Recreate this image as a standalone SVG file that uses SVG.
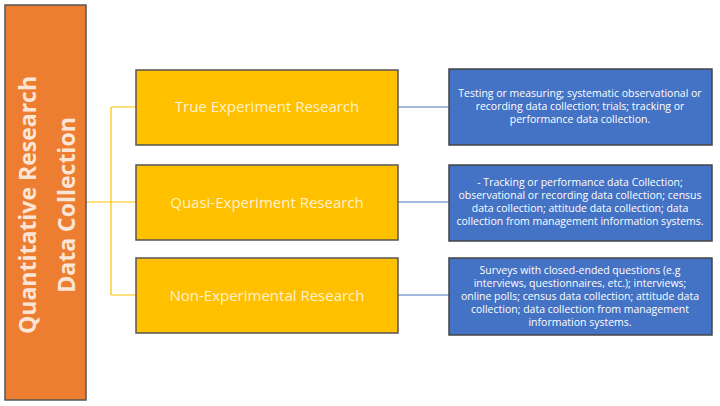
<svg xmlns="http://www.w3.org/2000/svg" width="720" height="406" viewBox="0 0 720 406">
<style>
.y{fill:#FFC000;stroke:#555;stroke-width:1.5}
.b{fill:#4472C4;stroke:#444;stroke-width:1.5}
.yt{font-family:"Open Sans","Liberation Sans",sans-serif;font-size:15px;fill:#FFF2CC;text-anchor:middle}
.bt{font-family:"Open Sans","Liberation Sans",sans-serif;font-size:10.5px;fill:#fff;text-anchor:middle}
.ot{font-family:"Open Sans","Liberation Sans",sans-serif;font-size:23px;font-weight:bold;fill:#FBE5D6;text-anchor:middle}
</style>
<rect width="720" height="406" fill="#fff"/>
<g id="connectors" fill="none">
<path d="M86 202H136M111 107V295M111 107H136M111 295H136" stroke="#FFC000" stroke-width="1.2"/>
<path d="M398 107H449M398 202H449M398 295H449" stroke="#4472C4" stroke-width="1.2"/>
</g>
<g id="root">
<rect x="5" y="5" width="81" height="395" fill="#ED7D31" stroke="#555" stroke-width="1.5"/>
<text class="ot" transform="translate(36,205) rotate(-90)">Quantitative Research</text>
<text class="ot" transform="translate(75,205) rotate(-90)">Data Collection</text>
</g>
<g id="true"><rect class="y" x="136" y="70" width="262" height="75"/><text class="yt" x="267" y="112">True Experiment Research</text></g>
<g id="quasi"><rect class="y" x="136" y="165" width="262" height="75"/><text class="yt" x="267" y="208">Quasi-Experiment Research</text></g>
<g id="non"><rect class="y" x="136" y="258" width="262" height="75"/><text class="yt" x="267" y="301">Non-Experimental Research</text></g>
<g id="d1"><rect class="b" x="449" y="69" width="263" height="76"/>
<text class="bt"><tspan x="580" y="97">Testing or measuring; systematic observational or</tspan><tspan x="580" y="110">recording data collection; trials; tracking or</tspan><tspan x="580" y="123">performance data collection.</tspan></text></g>
<g id="d2"><rect class="b" x="449" y="165" width="263" height="76"/>
<text class="bt"><tspan x="580" y="186">- Tracking or performance data Collection;</tspan><tspan x="580" y="199">observational or recording data collection; census</tspan><tspan x="580" y="212">data collection; attitude data collection; data</tspan><tspan x="580" y="225">collection from management information systems.</tspan></text></g>
<g id="d3"><rect class="b" x="449" y="258" width="263" height="77"/>
<text class="bt"><tspan x="580" y="274">Surveys with closed-ended questions (e.g</tspan><tspan x="580" y="287">interviews, questionnaires, etc.); interviews;</tspan><tspan x="580" y="300">online polls; census data collection; attitude data</tspan><tspan x="580" y="313">collection; data collection from management</tspan><tspan x="580" y="326">information systems.</tspan></text></g>
</svg>
